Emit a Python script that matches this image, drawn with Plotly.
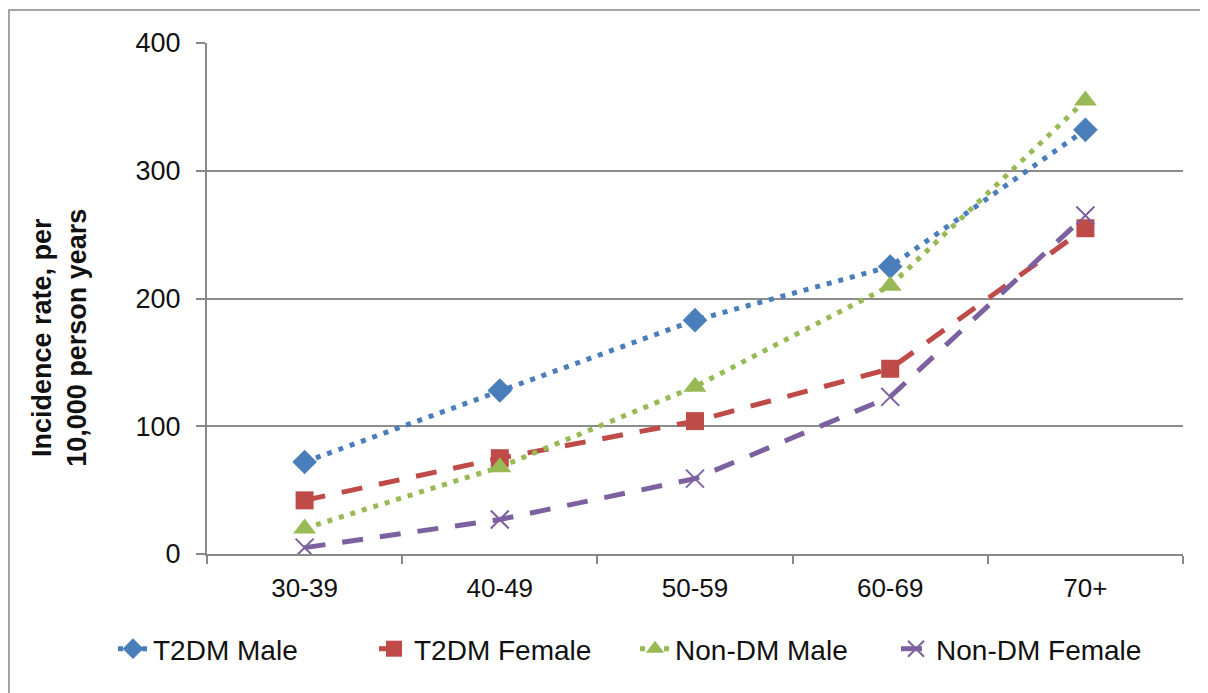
import plotly.graph_objects as go

# age groups and incidence rates per 10,000 person years
age_groups = ['30-39', '40-49', '50-59', '60-69', '70+']
t2dm_male = [72, 128, 183, 225, 332]
t2dm_female = [42, 75, 104, 145, 255]
nondm_male = [20, 68, 131, 210, 355]
nondm_female = [5, 27, 59, 123, 265]

series = [
    ('T2DM Male', t2dm_male, '#4A7EBB', '5px,7px', 'diamond', 19),
    ('T2DM Female', t2dm_female, '#BE4B48', '21px,17px', 'square', 18),
    ('Non-DM Male', nondm_male, '#98B954', '5px,7px', 'triangle-up', 20),
    ('Non-DM Female', nondm_female, '#7D60A0', '21px,17px', 'x-thin', 18),
]

data = []
for name, vals, color, dash, symbol, size in series:
    data.append(go.Scatter(
        x=age_groups, y=vals, name=name, mode='lines+markers',
        line=dict(color=color, width=5, dash=dash),
        marker=dict(symbol=symbol, size=size, color=color,
                    line=dict(color=color, width=2 if symbol == 'x-thin' else 0)),
    ))

layout = go.Layout(
    width=1208, height=693,
    paper_bgcolor='white', plot_bgcolor='white',
    margin=dict(l=199, r=33, t=35, b=147),
    font=dict(family='Liberation Sans, Arial, sans-serif', color='#111111'),
    xaxis=dict(
        type='category', tickson='boundaries', ticks='outside', ticklen=8,
        tickcolor='#888888', tickwidth=1.5, showgrid=False,
        showline=True, linecolor='#888888', linewidth=2,
        tickfont=dict(size=26), range=[-0.5, 4.5], ticklabelstandoff=10,
    ),
    yaxis=dict(
        range=[0, 400], dtick=100, ticks='outside', ticklen=9,
        tickcolor='#888888', tickwidth=1.5,
        showgrid=True, gridcolor='#8c8c8c', gridwidth=1.5,
        showline=True, linecolor='#888888', linewidth=2,
        zeroline=False, tickfont=dict(size=27), ticklabelstandoff=10,
    ),
    # y-axis title sits a bit below the plot centre, so use an annotation
    annotations=[dict(
        text='<b>Incidence rate, per<br>10,000 person years</b>',
        xref='paper', yref='paper', x=-0.1506, y=0.423,
        xanchor='center', yanchor='middle', textangle=-90,
        showarrow=False, font=dict(size=27),
    )],
    legend=dict(orientation='h', x=-0.0963, xanchor='left', y=-0.137,
                yanchor='top', font=dict(size=28), entrywidth=216),
    shapes=[dict(type='rect', xref='paper', yref='paper',
                 x0=-0.2029, x1=1.2, y0=-0.5, y1=1.0646,
                 line=dict(color='#888888', width=1.5), layer='below')],
)

fig = go.Figure(data=data, layout=layout)
fig.write_html('out.html')
